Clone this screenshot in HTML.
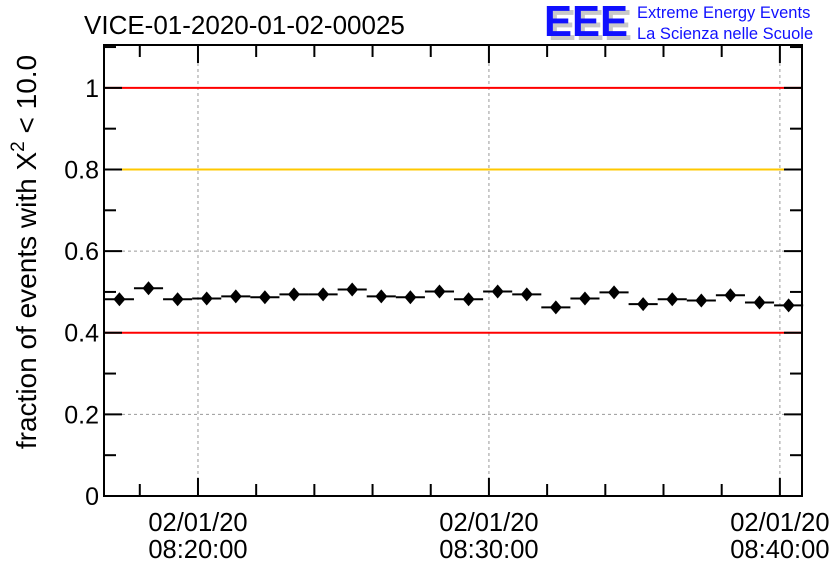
<!DOCTYPE html>
<html><head><meta charset="utf-8"><style>
body{margin:0;background:#fff;}
svg text{font-family:"Liberation Sans",sans-serif;}
</style></head><body>
<svg width="836" height="572" xmlns="http://www.w3.org/2000/svg">
<rect width="836" height="572" fill="#fff"/>
<g id="plot"></g>
<text x="84" y="34" font-size="26" fill="#000">VICE-01-2020-01-02-00025</text>
<g>
<text x="548" y="40" font-size="44" font-weight="bold" fill="#c8c8c8" textLength="84" lengthAdjust="spacingAndGlyphs">EEE</text>
<text x="544" y="36" font-size="44" font-weight="bold" fill="#1010ff" textLength="84" lengthAdjust="spacingAndGlyphs">EEE</text>
<text x="637" y="18" font-size="16.5" fill="#1010ff">Extreme Energy Events</text>
<text x="637" y="39" font-size="16.5" fill="#1010ff">La Scienza nelle Scuole</text>
</g>
<text transform="translate(36,252) rotate(-90)" text-anchor="middle" font-size="28" fill="#000">fraction of events with X<tspan dy="-12" font-size="19">2</tspan><tspan dy="12"> &lt; 10.0</tspan></text>
</svg>
<script>
const minutes=[-2.7,-1.7,-0.7,0.3,1.3,2.3,3.3,4.3,5.3,6.3,7.3,8.3,9.3,10.3,11.3,12.3,13.3,14.3,15.3,16.3,17.3,18.3,19.3,20.3];
const fractions=[0.482,0.509,0.482,0.484,0.489,0.487,0.494,0.494,0.506,0.489,0.487,0.501,0.482,0.501,0.494,0.462,0.484,0.499,0.470,0.482,0.479,0.492,0.474,0.467];
const yTicks=[0,0.2,0.4,0.6,0.8,1];
const yTickLabels=["0","0.2","0.4","0.6","0.8","1"];
const xMajor=[0,10,20];
const xDates=["02/01/20","02/01/20","02/01/20"];
const xTimes=["08:20:00","08:30:00","08:40:00"];
const refLines=[1,0.8,0.4];
const refColors=["#ff0000","#ffc800","#ff0000"];

const L=104,R=802,T=45,B=496;
const xmin=-3.23,xmax=20.76,ymin=0,ymax=1.105;
const X=m=>L+(m-xmin)/(xmax-xmin)*(R-L);
const Y=v=>B-(v-ymin)/(ymax-ymin)*(B-T);
const ns="http://www.w3.org/2000/svg";
const g=document.getElementById('plot');
function mk(t,a,p){const e=document.createElementNS(ns,t);for(const k in a)e.setAttribute(k,a[k]);(p||g).appendChild(e);return e;}

xMajor.forEach(m=>{const e=mk('line',{x1:X(m),x2:X(m),y1:T,y2:B,stroke:'#999','stroke-dasharray':'3,3','stroke-width':1});

});
[0.2,0.6].forEach(v=>{const e=mk('line',{x1:L,x2:R,y1:Y(v),y2:Y(v),stroke:'#999','stroke-dasharray':'3,3','stroke-width':1});

});
refLines.forEach((v,i)=>{const e=mk('line',{x1:L,x2:R,y1:Y(v),y2:Y(v),stroke:refColors[i],'stroke-width':2});

});
const fr=mk('rect',{x:L,y:T,width:R-L,height:B-T,fill:'none',stroke:'#000','stroke-width':2});


for(let m=-2;m<=20;m+=2){const len=(m%10===0)?18:12;
[[B,B-len],[T,T+len]].forEach(([a,b])=>{const e=mk('line',{x1:X(m),x2:X(m),y1:a,y2:b,stroke:'#000','stroke-width':2});

});}
for(let k=0;k<=11;k++){const v=k*0.1;const len=(k%2===0)?18:12;
[[L,L+len],[R,R-len]].forEach(([a,b])=>{const e=mk('line',{x1:a,x2:b,y1:Y(v),y2:Y(v),stroke:'#000','stroke-width':2});

});}
yTicks.forEach((v,i)=>{const t=mk('text',{x:L-5,y:Y(v)+9,'text-anchor':'end','font-size':25,fill:'#000'});t.textContent=yTickLabels[i];

});
xMajor.forEach((m,i)=>{const t1=mk('text',{x:X(m),y:531,'text-anchor':'middle','font-size':25.5,fill:'#000'});t1.textContent=xDates[i];


const t2=mk('text',{x:X(m),y:558,'text-anchor':'middle','font-size':25.5,fill:'#000'});t2.textContent=xTimes[i];

});
minutes.forEach((m,i)=>{const y=Y(fractions[i]);
const grp=mk('g',{});


mk('line',{x1:X(m-0.5),x2:X(m+0.5),y1:y,y2:y,stroke:'#000','stroke-width':2},grp);
const cx=X(m);
mk('polygon',{points:`${cx},${y-7} ${cx+6},${y} ${cx},${y+7} ${cx-6},${y}`,fill:'#000'},grp);});
</script>
</body></html>
